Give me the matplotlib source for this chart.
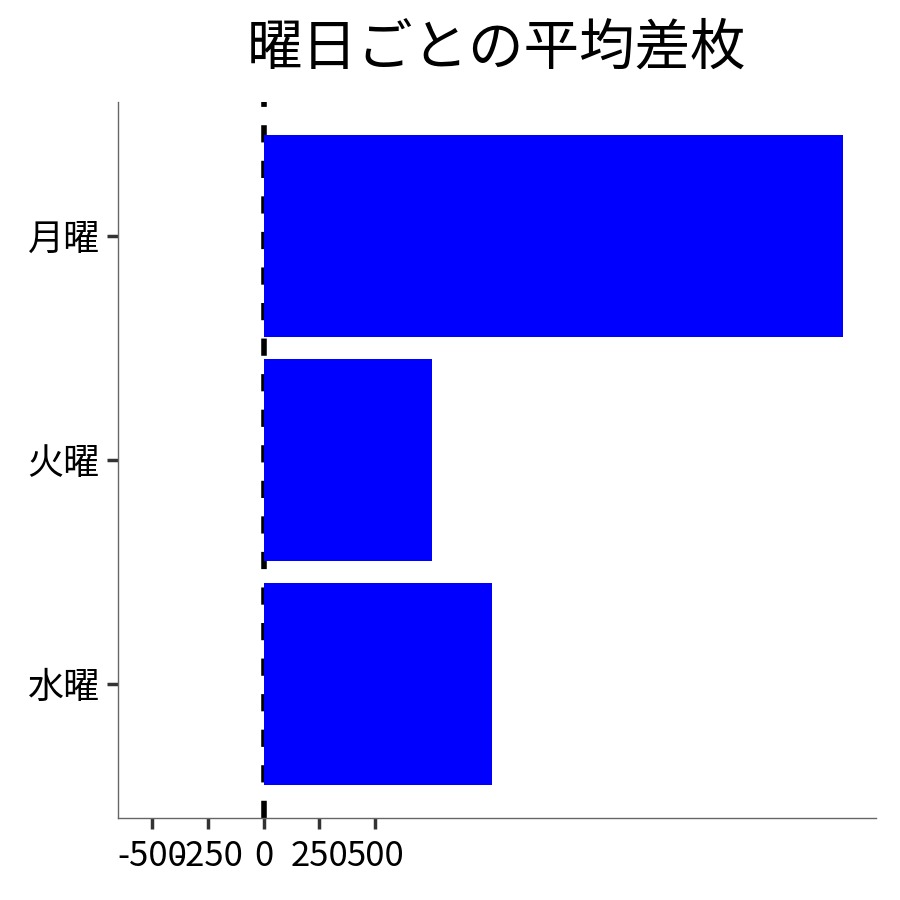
import numpy as np
from matplotlib import pyplot

pyplot.rcParams['font.family'] = ['Noto Sans CJK JP', 'DejaVu Sans']

days = ['月曜', '火曜', '水曜']
meanDiff = [2600, 755, 1025]
xTicks = [-500, -250, 0, 250, 500]

figure = pyplot.figure(figsize=(9, 9), dpi=100)
axis = figure.add_axes([0.131, 0.091, 0.842, 0.796])

ypos = np.arange(len(days))
axis.barh(ypos, meanDiff, height=0.9, color='#0000ff', zorder=3)
axis.axvline(0, color='black', linewidth=4, linestyle=(0, (3.1, 3.3)), zorder=2)

axis.set_yticks(ypos)
axis.set_yticklabels(days, fontsize=26)
axis.set_xticks(xTicks)
axis.set_xticklabels([str(t) for t in xTicks], fontsize=25)
axis.set_ylim(2.6, -0.6)
axis.set_xlim(-655, 2747)

for side in ['top', 'right']:
	axis.spines[side].set_visible(False)
for side in ['left', 'bottom']:
	axis.spines[side].set_color('#666666')
	axis.spines[side].set_linewidth(1.0)
axis.tick_params(axis='y', length=8, width=2.5, color='#333333', pad=5)
axis.tick_params(axis='x', length=8, width=2.5, color='#333333', pad=7)

axis.set_title('曜日ごとの平均差枚', fontsize=40, pad=27)

pyplot.savefig('out.png', dpi=100)
